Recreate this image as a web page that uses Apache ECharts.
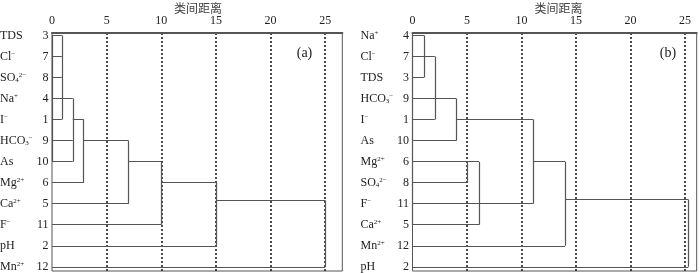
<!DOCTYPE html>
<html><head><meta charset="utf-8">
<script src="https://cdn.jsdelivr.net/npm/echarts@6/dist/echarts.min.js"></script>
<style>html,body{margin:0;padding:0;background:#fff}#c{width:700px;height:273px}</style>
</head><body><div id="c"></div>
<script>
// ---- data ----
const axisTitle = '类间距离';
const panelLabels = ['(a)', '(b)'];
const xTicks = [0, 5, 10, 15, 20, 25];
// panel (a)
const namesA = ['TDS','Cl{sup|−}','SO{sub|4}{sup|2−}','Na{sup|+}','I{sup|−}','HCO{sub|3}{sup|−}','As','Mg{sup|2+}','Ca{sup|2+}','F{sup|−}','pH','Mn{sup|2+}'];
const numsA = [3,7,8,4,1,9,10,6,5,11,2,12];
// horizontal segments: [row, fromDist, toDist]
const horizA = [[0,0,0.9],[1,0,0.9],[2,0,0.9],[3,0,1.9],[4,0,0.9],[4,1.9,2.9],[5,0,1.9],[5,2.9,7],[6,0,1.9],[6,7,10],[7,0,2.9],[7,10,15],[8,0,7],[7.85,15,25],[9,0,10],[10,0,15],[11,0,25]];
// vertical segments: [dist, fromRow, toRow]
const vertA = [[0,0,6],[0.9,0,4],[1.9,3,6],[2.9,4,7],[7,5,8],[10,6,9],[15,7,10],[25,7.85,11]];
// panel (b)
const namesB = ['Na{sup|+}','Cl{sup|−}','TDS','HCO{sub|3}{sup|−}','I{sup|−}','As','Mg{sup|2+}','SO{sub|4}{sup|2−}','F{sup|−}','Ca{sup|2+}','Mn{sup|2+}','pH'];
const numsB = [4,7,3,9,1,10,6,8,11,5,12,2];
const horizB = [[0,0,1.05],[2,0,1.05],[1,0,2.05],[4,0,2.05],[3,0,4],[5,0,4],[4,4,11.05],[6,0,6.1],[7,0,5],[9,0,6.1],[8,0,11.05],[6,11.05,14],[10,0,14],[7.8,14,25.3],[11,0,25.3]];
const vertB = [[0,0,9],[1.05,0,2],[2.05,1,4],[4,3,5],[5,6,7],[6.1,6,9],[11.05,4,8],[14,6,10],[25.3,7.8,11]];

// ---- layout ----
const xMax = [26.56, 26.07];
const grids = [{left:52, top:33, width:290.3, height:238},{left:412.5, top:33, width:284.2, height:238}];
const serif = 'Liberation Serif, Times New Roman, serif';

function segs(h, v) {
  const out = [];
  h.forEach(s => out.push({coords: [[s[1], s[0]], [s[2], s[0]]]}));
  v.forEach(s => out.push({coords: [[s[0], s[1]], [s[0], s[2]]]}));
  return out;
}
function labelSeries(i, names, nums) {
  return {
    type: 'custom', xAxisIndex: i, yAxisIndex: i, clip: false, silent: true,
    data: names.map((n, r) => [0, r, r]),
    renderItem: function (params, api) {
      const r = api.value(2);
      const p = api.coord([0, api.value(1)]);
      return {type: 'group', children: [
        {type: 'text', style: {text: names[r], x: p[0] - 52, y: p[1], align: 'left', verticalAlign: 'middle',
          fontFamily: serif, fontSize: 12, fill: '#222',
          rich: {sup: {fontSize: 7, verticalAlign: 'top', fontFamily: serif, fill: '#222', padding: [0,0,4,0]},
                 sub: {fontSize: 7, verticalAlign: 'bottom', fontFamily: serif, fill: '#222', padding: [4,0,0,0]}}}},
        {type: 'text', style: {text: String(nums[r]), x: p[0] - 3.5, y: p[1], align: 'right', verticalAlign: 'middle',
          fontFamily: serif, fontSize: 12, fill: '#222'}}
      ]};
    }
  };
}

const chart = echarts.init(document.getElementById('c'), null, {renderer: 'canvas'});
const option = {
  animation: false,
  grid: grids.map(g => Object.assign({show: true, borderColor: '#555', borderWidth: 1}, g)),
  xAxis: [0, 1].map(i => ({
    gridIndex: i, type: 'value', position: 'top', min: 0, max: xMax[i], interval: 5,
    axisLine: {show: true, onZero: false, lineStyle: {color: '#555', width: 2}},
    axisTick: {show: false},
    axisLabel: {fontFamily: serif, fontSize: 12, color: '#222', margin: 6, showMaxLabel: false,
      formatter: v => xTicks.indexOf(v) >= 0 ? String(v) : ''},
    splitLine: {show: true, showMinLine: false, showMaxLine: false, lineStyle: {type: [2, 2], color: '#111', width: 1.5}}
  })),
  yAxis: [0, 1].map(i => ({gridIndex: i, type: 'value', inverse: true, min: -0.12, max: 11.2, show: false})),
  graphic: [
    {type: 'text', left: 0, top: 0, style: {text: ''}},
    {type: 'text', x: grids[0].left + 146, y: 8, style: {text: axisTitle, align: 'center', verticalAlign: 'middle', fontFamily: 'Noto Sans CJK SC', fontSize: 12, fill: '#444'}},
    {type: 'text', x: grids[1].left + 146, y: 8, style: {text: axisTitle, align: 'center', verticalAlign: 'middle', fontFamily: 'Noto Sans CJK SC', fontSize: 12, fill: '#444'}},
    {type: 'text', x: 304.5, y: 53, style: {text: panelLabels[0], align: 'center', verticalAlign: 'middle', fontFamily: serif, fontSize: 14, fill: '#222'}},
    {type: 'text', x: 668, y: 53, style: {text: panelLabels[1], align: 'center', verticalAlign: 'middle', fontFamily: serif, fontSize: 14, fill: '#222'}}
  ],
  series: [
    {type: 'lines', coordinateSystem: 'cartesian2d', xAxisIndex: 0, yAxisIndex: 0, silent: true,
      lineStyle: {color: '#555', width: 1.2, opacity: 1}, data: segs(horizA, vertA)},
    {type: 'lines', coordinateSystem: 'cartesian2d', xAxisIndex: 1, yAxisIndex: 1, silent: true,
      lineStyle: {color: '#555', width: 1.2, opacity: 1}, data: segs(horizB, vertB)},
    labelSeries(0, namesA, numsA),
    labelSeries(1, namesB, numsB)
  ]
};
chart.setOption(option);
</script></body></html>
